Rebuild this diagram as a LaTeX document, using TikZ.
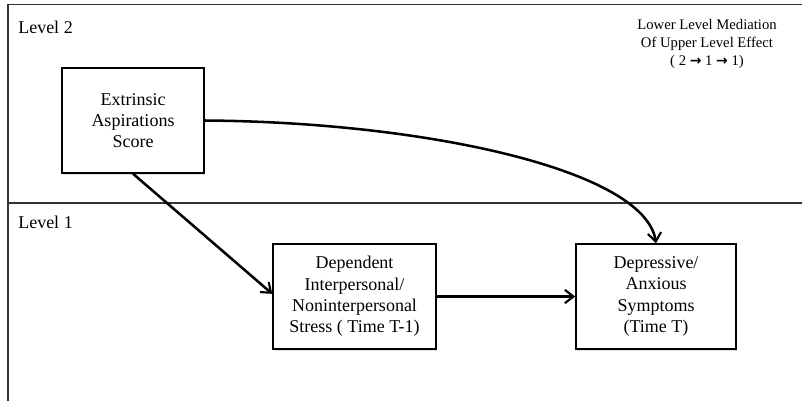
\documentclass[tikz,border=0pt]{standalone}
\usepackage{fontspec}
\setmainfont{Liberation Serif}
\newfontfamily\arrowfont{DejaVu Sans}
\usetikzlibrary{arrows.meta,shadows}
\begin{document}
\begin{tikzpicture}[x=0.75pt,y=-0.75pt,
  frameline/.style={draw=black!80,line width=1.1pt},
  varbox/.style={draw=black,line width=1.1pt,fill=white,align=center,
    minimum height=78.75pt,inner sep=2pt,
    font=\fontsize{13.5}{16}\selectfont,
    drop shadow={opacity=0.25,shadow xshift=1pt,shadow yshift=-1.2pt}},
  levellabel/.style={anchor=west,inner sep=0pt,font=\fontsize{13.5}{16}\selectfont},
  conn/.style={line width=1.9pt,-{Straight Barb[length=6.5pt,width=10pt,line width=1.6pt]}}
]
\useasboundingbox (0,0) rectangle (802,401);
\fill[white] (0,0) rectangle (802,401);
% frame
\draw[frameline] (8,401) -- (8,4.5) -- (802,4.5);
\draw[frameline] (8,203) -- (802,203);
% labels
\node[levellabel] (l2) at (18,27) {Level 2};
\node[levellabel] (l1) at (18,222) {Level 1};
\node[align=center,inner sep=0pt,font=\fontsize{11}{13.5}\selectfont] (note) at (707,44)
  {Lower Level Mediation\\Of Upper Level Effect\\( 2 {\arrowfont\bfseries\fontsize{10.5}{13.5}\selectfont →} 1 {\arrowfont\bfseries\fontsize{10.5}{13.5}\selectfont →} 1)};
% boxes
\node[varbox,minimum width=106.5pt] (b1) at (133,120.5) {Extrinsic\\Aspirations\\Score};
\node[varbox,minimum width=122.25pt] (b2) at (354.5,296.5) {Dependent\\Interpersonal/\\Noninterpersonal\\Stress ( Time T-1)};
\node[varbox,minimum width=120pt] (b3) at (656,296.5) {Depressive/\\Anxious\\Symptoms\\(Time T)};
% connectors
\draw[conn] (b1.east) .. controls (425,122) and (645,170) .. (b3.north);
\draw[conn] (b1.south) -- ([yshift=2pt]b2.west);
\draw[conn] (b2.east) -- (b3.west);
\end{tikzpicture}
\end{document}
